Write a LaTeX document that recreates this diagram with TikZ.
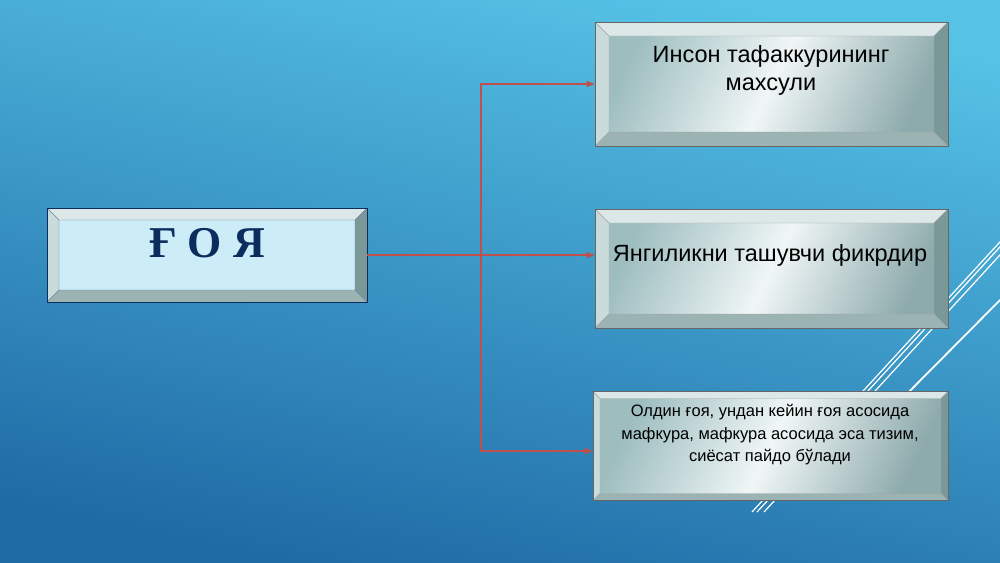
\documentclass[tikz,border=0pt]{standalone}
\usepackage{fontspec}
\setmainfont{Liberation Sans}
\newfontfamily\goyafont{Liberation Serif}
\usetikzlibrary{arrows.meta}

\definecolor{bgtop}{HTML}{56C2E6}
\definecolor{bgbot}{HTML}{1F6BA6}
\definecolor{linkred}{HTML}{C0504D}
\definecolor{goyaface}{HTML}{CCECF7}
\definecolor{goyaink}{HTML}{0B2D5E}
\definecolor{faceA}{HTML}{9DBDBF}
\definecolor{faceB}{HTML}{F0F6F6}
\definecolor{bvtop}{HTML}{DCE7E8}
\definecolor{bvleft}{HTML}{CADBDC}
\definecolor{bvright}{HTML}{7B9899}
\definecolor{bvbot}{HTML}{9CB3B4}

\tikzset{
  bev/.store in=\bevd, bev=12pt,
  plate/.style={draw=#1, line width=0.6pt, inner sep=0pt,
    path picture={
      \path (path picture bounding box.north west) coordinate (pnw)
            (path picture bounding box.north east) coordinate (pne)
            (path picture bounding box.south east) coordinate (pse)
            (path picture bounding box.south west) coordinate (psw);
      \path ([xshift=\bevd,yshift=-\bevd]pnw) coordinate (qnw)
            ([xshift=-\bevd,yshift=-\bevd]pne) coordinate (qne)
            ([xshift=-\bevd,yshift=\bevd]pse) coordinate (qse)
            ([xshift=\bevd,yshift=\bevd]psw) coordinate (qsw);
      \fill[bvtop] (pnw) -- (pne) -- (qne) -- (qnw) -- cycle;
      \fill[bvleft] (pnw) -- (qnw) -- (qsw) -- (psw) -- cycle;
      \fill[bvright] (pne) -- (pse) -- (qse) -- (qne) -- cycle;
      \fill[bvbot] (psw) -- (qsw) -- (qse) -- (pse) -- cycle;
      \draw[#1!60, line width=0.4pt] (qnw) rectangle (qse)
        (pnw) -- (qnw) (pne) -- (qne) (pse) -- (qse) (psw) -- (qsw);
    }},
  goyabox/.style={plate=goyaink, bev=12pt, fill=goyaface,
    minimum width=320pt, minimum height=94pt},
  infobox/.style={plate=gray!80!black, bev=14pt,
    left color=faceA, right color=faceA!90!black, middle color=faceB,
    shading angle=65, minimum width=353pt, minimum height=124pt},
  goyalbl/.style={font=\goyafont\bfseries\fontsize{44}{48}\selectfont, text=goyaink},
  lbl/.style={align=center, font=\fontsize{23.5}{28}\selectfont, text=black},
  link/.style={draw=linkred, line width=1.1pt},
  tip/.style={-{Triangle[length=8pt,width=6pt]}},
  deco/.style={draw=white, line width=1.2pt}
}

\begin{document}
\begin{tikzpicture}[x=1pt, y=-1pt]
\useasboundingbox (0,0) rectangle (1000,562);
\shade[top color=bgtop, bottom color=bgbot, shading angle=-12] (0,0) rectangle (1000,562);

% white strokes on the right
\draw[deco] (752,512) -- (1010,231);
\draw[deco] (757,512) -- (1010,236);
\draw[deco] (764,512) -- (1010,244);
\draw[deco, line width=1.8pt] (881,420) -- (1010,290);

% boxes
\node[goyabox] (goya) at (207,255) {};
\node[goyalbl] (goyat) at (207,243) {Ғ О Я};
\node[infobox] (idea1) at (771.5,84) {};
\node[lbl] (idea1t) at (771,70) {Инсон тафаккурининг\\махсули};
\node[infobox, minimum height=119pt] (idea2) at (771.5,268.5) {};
\node[lbl] (idea2t) at (770,255) {Янгиликни ташувчи фикрдир};
\node[infobox, bev=7pt, minimum width=355pt, minimum height=109pt] (idea3) at (770.5,446) {};
\node[lbl, font=\fontsize{16.5}{22.5}\selectfont] (idea3t) at (770,435)
  {Олдин ғоя, ундан кейин ғоя асосида\\мафкура, мафкура асосида эса тизим,\\сиёсат пайдо бўлади};

% connectors
\coordinate (fork) at (481,255);
\draw[link] (goya) -- (fork);
\draw[link, tip] (fork) |- (idea1);
\draw[link, tip] (fork) -- (fork -| idea2.west);
\draw[link, tip] (fork) |- ([yshift=-5pt]idea3.west);
\end{tikzpicture}
\end{document}
